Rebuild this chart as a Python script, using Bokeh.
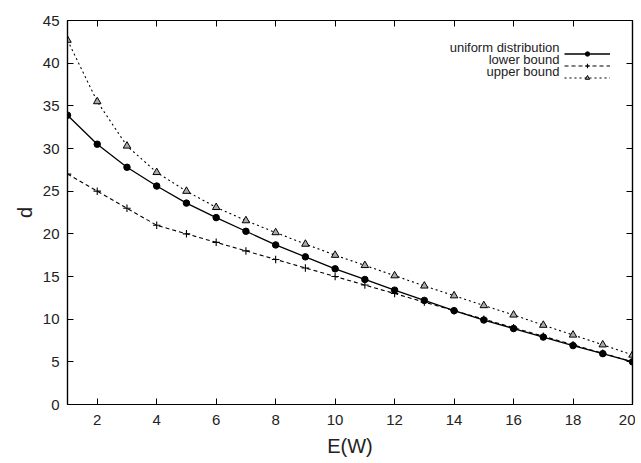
from bokeh.plotting import figure
from bokeh.models import (ColumnDataSource, LinearAxis, Range1d, FixedTicker,
                          Legend, LegendItem, Label)
from bokeh.embed import file_html
from bokeh.resources import INLINE

# ---- data ----
ew = list(range(1, 21))
uniform = [33.9, 30.5, 27.8, 25.6, 23.6, 21.9, 20.3, 18.7, 17.3, 15.9,
           14.65, 13.4, 12.2, 11.0, 9.9, 8.9, 7.9, 6.9, 5.96, 5.0]
lower = [27, 25, 23, 21, 20, 19, 18, 17, 16, 15,
         14, 13, 12, 11, 10, 9, 8, 7, 6, 5]
upper = [42.7, 35.5, 30.3, 27.2, 25.0, 23.1, 21.55, 20.15, 18.8, 17.5,
         16.3, 15.1, 13.9, 12.75, 11.6, 10.5, 9.3, 8.15, 7.0, 5.8]
x_ticks = [2, 4, 6, 8, 10, 12, 14, 16, 18, 20]
y_ticks = [0, 5, 10, 15, 20, 25, 30, 35, 40, 45]
series_names = ["uniform distribution", "lower bound", "upper bound"]

FONT = "Liberation Sans"
W, H = 635, 462
BL, BR, BT, BB = 67, 3, 20, 58
FW, FH = W - BL - BR, H - BT - BB

p = figure(width=W, height=H, output_backend="svg", toolbar_location=None,
           x_range=Range1d(1, 20), y_range=Range1d(0, 45),
           min_border_left=BL, min_border_right=BR, min_border_top=BT,
           min_border_bottom=BB, x_axis_label="E(W)", y_axis_label="d")
p.grid.visible = False
p.outline_line_color = "black"
p.outline_line_width = 1.2
p.background_fill_color = "white"
p.border_fill_color = "white"

for ax, ticks in ((p.xaxis[0], x_ticks), (p.yaxis[0], y_ticks)):
    ax.ticker = FixedTicker(ticks=ticks)
    ax.major_tick_in = 6
    ax.major_tick_out = 0
    ax.minor_tick_in = 0
    ax.minor_tick_out = 0
    ax.axis_line_color = "black"
    ax.axis_line_width = 1.2
    ax.major_tick_line_color = "black"
    ax.major_label_text_font = FONT
    ax.major_label_text_font_size = "15px"
    ax.major_label_text_color = "#222222"
    ax.axis_label_text_font = FONT
    ax.axis_label_text_font_size = "20px"
    ax.axis_label_text_font_style = "normal"
    ax.axis_label_text_color = "#222222"

p.xaxis[0].major_label_standoff = 10
p.xaxis[0].axis_label_standoff = 7
p.yaxis[0].major_label_standoff = 8
p.yaxis[0].axis_label_standoff = 4

# mirrored ticks on top and right (no labels)
for loc, ticks in (("above", x_ticks), ("right", y_ticks)):
    ax = LinearAxis(ticker=FixedTicker(ticks=ticks), major_tick_in=6,
                    major_tick_out=0, minor_tick_in=0, minor_tick_out=0,
                    major_label_overrides={t: "" for t in ticks},
                    major_label_text_font_size="1px", major_label_standoff=0,
                    axis_line_color="black", axis_line_width=1.2)
    p.add_layout(ax, loc)

src = ColumnDataSource(dict(x=ew, u=uniform, lo=lower, up=upper))

l1 = p.line("x", "u", source=src, line_color="black", line_width=1.3)
m1 = p.scatter("x", "u", source=src, marker="circle", size=6.5,
               fill_color="black", line_color="black")
l2 = p.line("x", "lo", source=src, line_color="black", line_width=1.1,
            line_dash="4 3")
m2 = p.scatter("x", "lo", source=src, marker="cross", size=7.5,
               line_color="black", line_width=1.1)
l3 = p.line("x", "up", source=src, line_color="black", line_width=1.1,
            line_dash="2 3")
m3 = p.scatter("x", "up", source=src, marker="triangle", size=7.5,
               fill_color="#aaaaaa", line_color="black", line_width=1.0)

# legend: samples on the right, text right-aligned to their left
row_y = [39, 51, 63]          # row centres, px below the page top
legend = Legend(items=[LegendItem(label=" ", renderers=[l1, m1]),
                       LegendItem(label=" ", renderers=[l2, m2]),
                       LegendItem(label=" ", renderers=[l3, m3])],
                location=(497, FH - (row_y[0] - 12) - 36),
                orientation="vertical",
                glyph_width=46, glyph_height=11, spacing=1, padding=0,
                margin=0, label_width=0, label_standoff=0,
                label_text_font_size="13px", border_line_color=None,
                background_fill_alpha=0)
p.add_layout(legend, "center")

for name, yy in zip(series_names, row_y):
    p.add_layout(Label(x=492, y=FH - (yy - 12), x_units="screen",
                       y_units="screen", text=name, text_align="right",
                       text_baseline="middle", text_font=FONT,
                       text_font_size="13px", text_color="#222222"))

open("out.html", "w").write(file_html(p, INLINE))
